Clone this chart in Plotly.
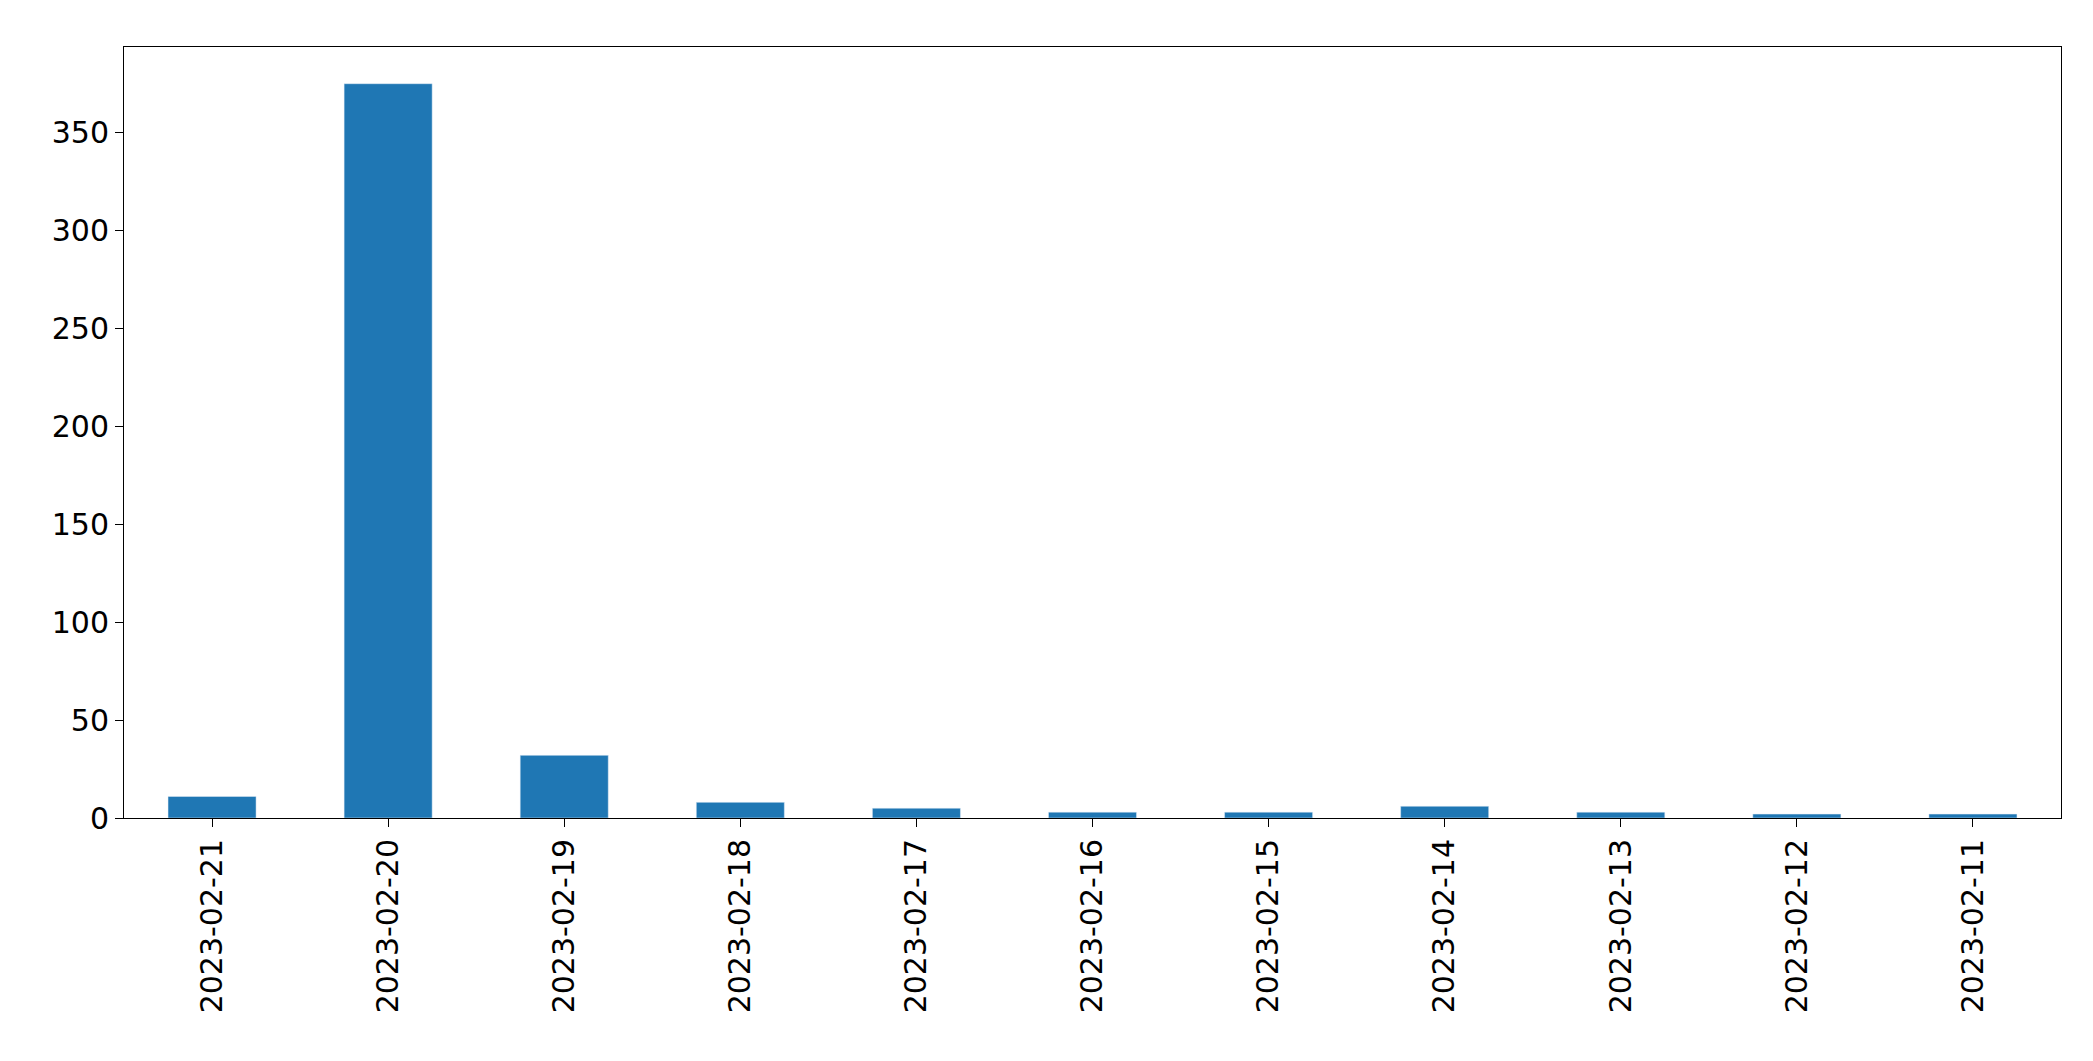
import plotly.graph_objects as go

dates = ["2023-02-21","2023-02-20","2023-02-19","2023-02-18","2023-02-17","2023-02-16",
         "2023-02-15","2023-02-14","2023-02-13","2023-02-12","2023-02-11"]
counts = [11, 375, 32, 8, 5, 3, 3, 6, 3, 2, 2]

fig = go.Figure(go.Bar(x=dates, y=counts, marker_color="#1f77b4", width=0.5))
fig.update_layout(
    width=2093, height=1061, plot_bgcolor="white", paper_bgcolor="white",
    margin=dict(l=116, r=40, t=39, b=251), showlegend=False,
    font=dict(family="DejaVu Sans", size=30, color="black"),
)
fig.update_xaxes(type="category", tickangle=-90, showline=True, linecolor="black", mirror=True,
                 ticks="outside", ticklen=8, tickcolor="black", range=[-0.5, 10.5])
fig.update_yaxes(range=[0, 393.75], tickvals=[0,50,100,150,200,250,300,350], showgrid=False,
                 showline=True, linecolor="black", mirror=True, ticks="outside", ticklen=8,
                 tickcolor="black", zeroline=False)
fig.write_html("out.html")
